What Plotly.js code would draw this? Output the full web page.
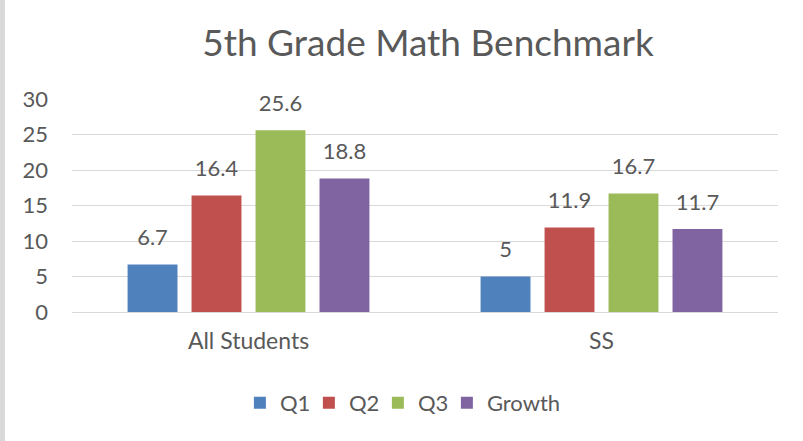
<!DOCTYPE html>
<html>
<head>
<meta charset="utf-8">
<script src="https://cdn.plot.ly/plotly-3.0.1.min.js"></script>
<style>
html,body{margin:0;padding:0;background:#fff;}
#wrap{width:803px;height:441px;position:relative;}
#strip{position:absolute;left:0;top:0;width:5px;height:441px;background:#d9d9d9;}
#chart{position:absolute;left:0;top:0;width:803px;height:441px;}
</style>
</head>
<body>
<div id="wrap"><div id="chart"></div><div id="strip"></div></div>
<script>
const categories = ["All Students", "SS"];
const seriesNames = ["Q1", "Q2", "Q3", "Growth"];
const q1 = [6.7, 5];
const q2 = [16.4, 11.9];
const q3 = [25.6, 16.7];
const growth = [18.8, 11.7];
const colors = ["#4f81bd", "#c0504d", "#9bbb59", "#8064a2"];
const yTicks = [0, 5, 10, 15, 20, 25, 30];

const values = [q1, q2, q3, growth];
const font = "Lato, 'Open Sans', 'Liberation Sans', sans-serif";
const traces = values.map((v, i) => ({
  type: "bar",
  name: seriesNames[i],
  x: categories,
  y: v,
  marker: {color: colors[i]},
  text: v.map(s => "<span style='font-size:22px'>" + s + "</span><br>&nbsp;"),
  textposition: "outside",
  cliponaxis: false,
  textfont: {family: font, size: 11, color: "#595959"},
  legendwidth: i === values.length - 1 ? 90 : undefined
}));

const layout = {
  width: 803,
  height: 441,
  margin: {l: 72, r: 25, t: 99, b: 129},
  paper_bgcolor: "#ffffff",
  plot_bgcolor: "#ffffff",
  barmode: "group",
  bargap: 0.275,
  bargroupgap: 0.22,
  title: {
    text: "5th Grade Math Benchmark",
    font: {family: font, size: 37, color: "#595959"},
    x: 428 / 803, xanchor: "center", xref: "container",
    y: 1 - 43 / 441, yanchor: "middle", yref: "container"
  },
  xaxis: {
    tickfont: {family: font, size: 23, color: "#595959"},
    showline: false,
    showgrid: false,
    ticks: "",
    ticklabelstandoff: 13
  },
  yaxis: {
    range: [0, 30],
    tickvals: yTicks,
    ticktext: yTicks.map(String),
    showgrid: true,
    gridcolor: "#d9d9d9",
    gridwidth: 1,
    zeroline: true,
    zerolinecolor: "#d9d9d9",
    zerolinewidth: 1,
    tickfont: {family: font, size: 22, color: "#595959"},
    ticks: "",
    ticklabelstandoff: 23
  },
  showlegend: true,
  legend: {
    orientation: "h",
    x: 0.48, xanchor: "center",
    y: -0.427, yanchor: "middle",
    font: {family: font, size: 22, color: "#595959"},
    itemwidth: 30,
    entrywidth: 24,
    entrywidthmode: "pixels",
    traceorder: "normal"
  }
};

Plotly.newPlot("chart", traces, layout, {displayModeBar: false, staticPlot: true});
</script>
</body>
</html>
